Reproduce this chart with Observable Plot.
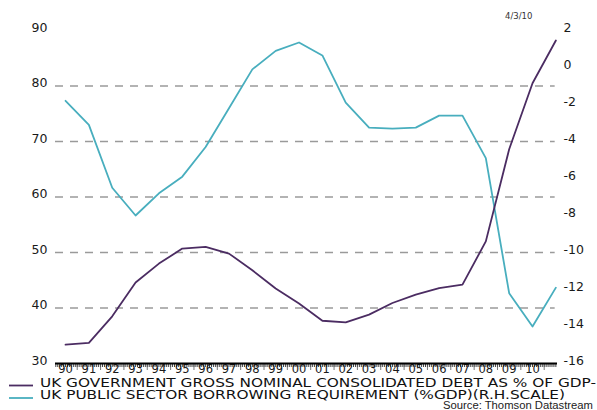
<!DOCTYPE html>
<html>
<head>
<meta charset="utf-8">
<script src="https://cdn.jsdelivr.net/npm/d3@7"></script>
<script src="https://cdn.jsdelivr.net/npm/@observablehq/plot@0.6"></script>
<style>
  html, body { margin: 0; padding: 0; background: #fff; }
  #wrap { position: relative; width: 597px; height: 410px; overflow: hidden; background: #fff; }
  #chart { position: absolute; left: 0; top: 0; }
  #notes { position: absolute; left: 0; top: 0; pointer-events: none; }
</style>
</head>
<body>
<div id="wrap">
  <div id="chart"></div>
  <svg id="notes" width="597" height="410"></svg>
</div>
<script>
// Annual observations, plotted at mid-year
const years = [1990, 1991, 1992, 1993, 1994, 1995, 1996, 1997, 1998, 1999, 2000,
               2001, 2002, 2003, 2004, 2005, 2006, 2007, 2008, 2009, 2010, 2011];
// UK government gross nominal consolidated debt, % of GDP (left scale)
const debtPctGDP = [33.4, 33.7, 38.5, 44.6, 48.0, 50.7, 51.0, 49.8, 46.8, 43.5, 40.8,
                    37.7, 37.4, 38.8, 40.9, 42.4, 43.6, 44.2, 52.0, 68.6, 80.5, 88.2];
// UK public sector borrowing requirement, % of GDP (right scale)
const borrowingPctGDP = [-1.8, -3.1, -6.5, -8.0, -6.8, -5.9, -4.3, -2.2, -0.1, 0.9, 1.35,
                         0.65, -1.9, -3.25, -3.3, -3.25, -2.6, -2.6, -4.9, -12.2, -14.0, -11.9];

// Axis ticks
const leftTicks = [30, 40, 50, 60, 70, 80, 90];
const rightTicks = [2, 0, -2, -4, -6, -8, -10, -12, -14, -16];
const gridTicks = [40, 50, 60, 70, 80];
const yearLabels = d3.range(1990, 2011);

const leftDomain = [30, 90];
const rightDomain = [-16, 2];
const xDomain = [1990.07, 2011.57];

// Map the right-hand scale onto the left-hand one
const toLeft = d3.scaleLinear().domain(rightDomain).range(leftDomain);

const debtRows = years.map((y, i) => ({x: y + 0.5, v: debtPctGDP[i]}));
const borrowRows = years.map((y, i) => ({x: y + 0.5, v: toLeft(borrowingPctGDP[i])}));

const monthTicks = d3.range(1990 * 12, 2012 * 12).map(m => m / 12)
  .filter(t => t >= xDomain[0] && t <= xDomain[1]);
const yearTicks = d3.range(1991, 2012).filter(t => t <= xDomain[1]);

const PURPLE = "#4b2c62";
const TEAL = "#48aebe";

const chart = Plot.plot({
  width: 597,
  height: 378,
  marginLeft: 55,
  marginRight: 40,
  marginTop: 30,
  marginBottom: 15,
  style: {fontFamily: "'DejaVu Sans', Verdana, sans-serif", color: "#1a1a1a", background: "transparent"},
  x: {domain: xDomain, axis: null, label: null},
  y: {domain: leftDomain, axis: null, label: null},
  marks: [
    Plot.ruleY(gridTicks, {stroke: "#9a9a9a", strokeWidth: 1.3, strokeDasharray: "8,7", x1: 1990.07, x2: 2011.47}),
    Plot.axisY({anchor: "left", ticks: leftTicks, tickSize: 0, tickPadding: 8, dy: -3, fontSize: 12.5, label: null}),
    Plot.axisY({anchor: "right", ticks: rightTicks.map(toLeft), tickSize: 0, tickPadding: 6, dy: -3,
                textAnchor: "start", fontSize: 12.5, label: null,
                tickFormat: v => { const r = Math.round(toLeft.invert(v)); return r < 0 ? "-" + (-r) : String(r); }}),
    Plot.line(borrowRows, {x: "x", y: "v", stroke: TEAL, strokeWidth: 1.8}),
    Plot.line(debtRows, {x: "x", y: "v", stroke: PURPLE, strokeWidth: 1.8}),
    Plot.axisX({anchor: "bottom", ticks: monthTicks, tickSize: 4, tickFormat: () => "", label: null,
                stroke: "#111", strokeWidth: 0.8}),
    Plot.axisX({anchor: "bottom", ticks: yearTicks, tickSize: 7, tickFormat: () => "", label: null,
                stroke: "#555", strokeWidth: 0.8}),
    Plot.axisX({anchor: "bottom", ticks: yearLabels.map(y => y + 0.5), tickSize: 0, tickPadding: 1, fontSize: 11.5,
                label: null, tickFormat: d => String(Math.floor(d) % 100).padStart(2, "0")}),
    Plot.ruleY([30], {stroke: "#000", strokeWidth: 2.2})
  ]
});
document.getElementById("chart").appendChild(chart);

// Date stamp, legend and source line
const notes = d3.select("#notes");
notes.append("text").attr("x", 505).attr("y", 19)
  .attr("font-family", "'DejaVu Sans', sans-serif").attr("font-size", 8.5).attr("fill", "#333")
  .text("4/3/10");

const legend = [
  {label: "UK GOVERNMENT GROSS NOMINAL CONSOLIDATED DEBT AS % OF GDP-", color: PURPLE, y: 385.5, len: 556},
  {label: "UK PUBLIC SECTOR BORROWING REQUIREMENT (%GDP)(R.H.SCALE)", color: TEAL, y: 398, len: 525}
];
for (const item of legend) {
  notes.append("line").attr("x1", 9).attr("x2", 33).attr("y1", item.y).attr("y2", item.y)
    .attr("stroke", item.color).attr("stroke-width", 1.8);
  notes.append("text").attr("x", 40).attr("y", item.y + 1)
    .attr("font-family", "'DejaVu Sans', sans-serif").attr("font-size", 12).attr("fill", "#111")
    .attr("textLength", item.len).attr("lengthAdjust", "spacingAndGlyphs")
    .text(item.label);
}
notes.append("text").attr("x", 443).attr("y", 409)
  .attr("font-family", "'Liberation Sans', Arial, sans-serif").attr("font-size", 10).attr("fill", "#222")
  .attr("textLength", 150).attr("lengthAdjust", "spacingAndGlyphs")
  .text("Source: Thomson Datastream");
</script>
</body>
</html>
